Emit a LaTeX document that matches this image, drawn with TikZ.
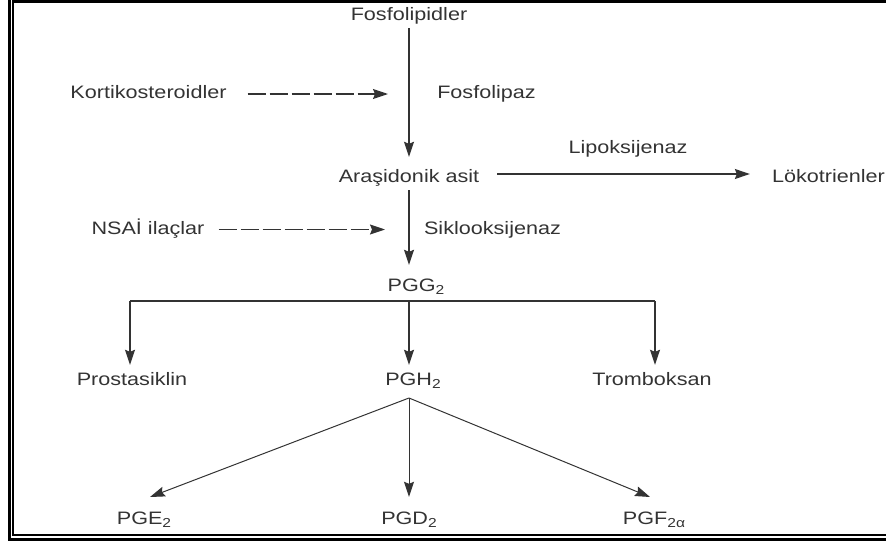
\documentclass[tikz,border=0pt]{standalone}
\usepackage{fontspec}
\setmainfont{Liberation Sans}[FakeStretch=1.2]
\usetikzlibrary{arrows.meta}
\definecolor{ink}{gray}{0.2}
\newcommand{\lowidx}[1]{\raisebox{-3pt}{\fontsize{13}{13}\selectfont #1}}

\begin{document}
\begin{tikzpicture}[x=1pt,y=-1pt,
  lbl/.style={anchor=base,inner sep=0pt,text height=13pt,text depth=4pt,text=ink,
    font=\fontsize{18}{20}\selectfont},
  arr/.style={draw=ink,line width=1.3pt,-{Stealth[length=15pt,width=10pt,inset=2pt]}},
  inh/.style={arr,dash pattern=on 18pt off 4pt}]
  \useasboundingbox (0,0) rectangle (886,543);
  % frame
  \draw[line width=3pt] (9.5,0) -- (9.5,539.5) -- (886,539.5);
  \draw[line width=2pt] (886,534.5) -- (13,534.5) -- (13,1.5);
  \draw[line width=3pt] (12,1.5) -- (886,1.5);

  \node[lbl] (fosfo) at (409,21) {Fosfolipidler};
  \node[lbl] (korti) at (148.5,98.5) {Kortikosteroidler};
  \node[lbl] (fosfolipaz) at (486.5,98.5) {Fosfolipaz};
  \node[lbl] (arasi) at (409,182) {Araşidonik asit};
  \node[lbl] (lipoks) at (628,153) {Lipoksijenaz};
  \node[lbl] (lokot) at (828.5,182) {Lökotrienler};
  \node[lbl] (nsai) at (148,234) {NSAİ ilaçlar};
  \node[lbl] (siklo) at (492.5,234) {Siklooksijenaz};
  \node[lbl] (pgg) at (416,291) {PGG\lowidx{2}};
  \node[lbl] (prost) at (132,385) {Prostasiklin};
  \node[lbl] (pgh) at (413,385) {PGH\lowidx{2}};
  \node[lbl] (trombo) at (652,385) {Tromboksan};
  \node[lbl] (pge) at (144,524) {PGE\lowidx{2}};
  \node[lbl] (pgd) at (409,524) {PGD\lowidx{2}};
  \node[lbl] (pgf) at (654,524) {PGF\lowidx{2α}};

  \draw[arr,shorten <=3pt,shorten >=12pt] (fosfo.south) -- (fosfo.south |- arasi.north);
  \draw[inh,shorten <=21pt,shorten >=21pt] (korti.east) -- (korti.east -| fosfo.south);
  \draw[arr,shorten <=18pt,shorten >=22pt] ([yshift=3.5pt]arasi.east) -- ([yshift=3.5pt]arasi.east -| lokot.west);
  \draw[arr,shorten <=4pt,shorten >=13pt] (arasi.south) -- (arasi.south |- pgg.north);
  \draw[inh,shorten <=14pt,shorten >=24pt] (nsai.east) -- (nsai.east -| arasi.south);

  % PGG2 branches
  \coordinate (split) at (409,301);
  \coordinate (spl) at (130,301);
  \coordinate (spr) at (655,301);
  \draw[draw=ink,line width=1.3pt] (spl) -- (spr);
  \draw[arr,shorten >=7pt] (spl) -- (spl |- prost.north);
  \draw[arr,shorten >=7pt] (split) -- (split |- pgh.north);
  \draw[arr,shorten >=7pt] (spr) -- (spr |- trombo.north);

  % PGH2 fan
  \coordinate (fan) at (409,398);
  \coordinate (tipe) at (150,497);
  \coordinate (tipf) at (650,497);
  \draw[arr,line width=1pt] (fan) -- (tipe);
  \draw[arr,line width=1pt,shorten >=14pt] (fan) -- (fan |- pgd.north);
  \draw[arr,line width=1pt] (fan) -- (tipf);
\end{tikzpicture}
\end{document}
